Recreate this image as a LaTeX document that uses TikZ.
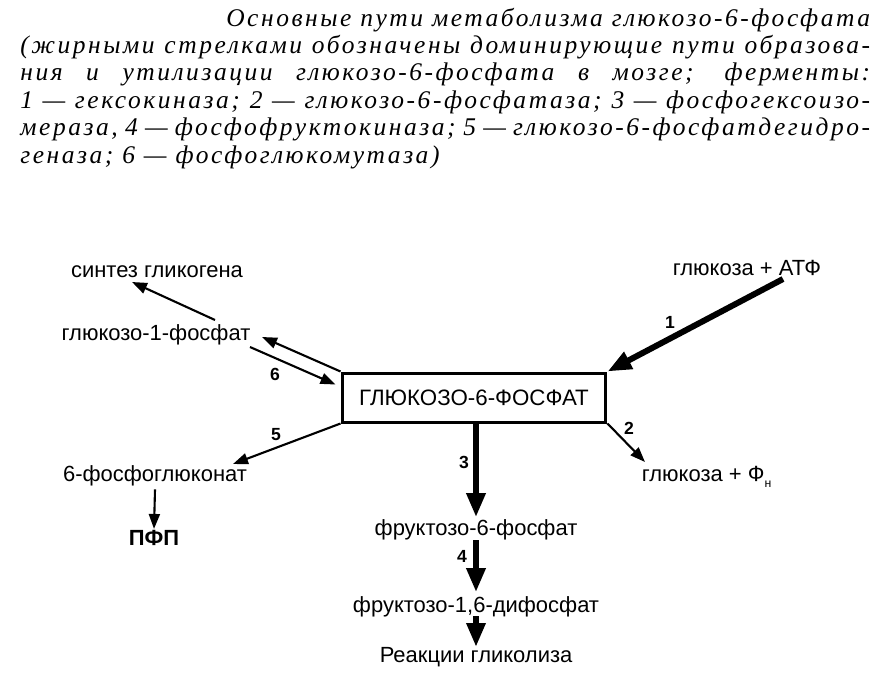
\documentclass[tikz,border=0pt]{standalone}
\usepackage{fontspec}
\setmainfont{Liberation Sans}
\newfontfamily\captionfont[LetterSpace=10]{Liberation Serif}
\usetikzlibrary{calc}
\usetikzlibrary{arrows.meta}

\begin{document}
\begin{tikzpicture}[x=0.02cm, y=-0.02cm,
    txt/.style={anchor=base, inner sep=2pt, font=\fontsize{12.5}{15}\selectfont},
    num/.style={inner sep=0pt, font=\fontsize{10}{12}\selectfont\bfseries},
    thinarr/.style={line width=1.2pt, -{Triangle[length=3mm, width=2.2mm]}},
    boldarr/.style={line width=3.4pt, -{Triangle[length=4.8mm, width=3.6mm]}}]
    \useasboundingbox (0,0) rectangle (885,694);

    % caption
    \node [anchor=base west, inner sep=0pt, text width=17cm, align=justify, font=\captionfont\itshape\fontsize{14.5}{15.6}\selectfont] (caption) at (20,26) {\hyphenpenalty=10000\exhyphenpenalty=10000
        \hfill Основные пути метаболизма глюкозо-6-фосфата\linebreak
        (жирными стрелками обозначены доминирующие пути образова-\linebreak
        ния и утилизации глюкозо-6-фосфата в мозге; ферменты:\linebreak
        1 — гексокиназа; 2 — глюкозо-6-фосфатаза; 3 — фосфогексоизо-\linebreak
        мераза, 4 — фосфофруктокиназа; 5 — глюкозо-6-фосфатдегидро-\linebreak
        геназа; 6 — фосфоглюкомутаза)};

    \node [draw, line width=1.7pt, minimum width=5.28cm, minimum height=0.98cm, inner sep=0pt, font=\fontsize{12.7}{15}\selectfont] (g6p) at (474,397.5) {ГЛЮКОЗО-6-ФОСФАТ};
    \node [txt] (glyc) at (157,277) {синтез гликогена};
    \node [txt] (g1p) at (156,340) {глюкозо-1-фосфат};
    \node [txt] (pgl) at (155,481) {6-фосфоглюконат};
    \node [txt, font=\fontsize{12.5}{15}\selectfont\bfseries] (pfp) at (154,545) {ПФП};
    \node [txt] (atp) at (747,275) {глюкоза + АТФ};
    \node [txt, anchor=base west] (glc) at (638,481) {глюкоза + Ф\raisebox{-0.6ex}{\scriptsize н}};
    \node [txt] (f6p) at (476,535) {фруктозо-6-фосфат};
    \node [txt] (fdp) at (476,612) {фруктозо-1,6-дифосфат};
    \node [txt] (glyk) at (476,662) {Реакции гликолиза};

    \node [num] (n1) at (670,322) {1};
    \node [num] (n2) at (629,428) {2};
    \node [num] (n3) at (464,462) {3};
    \node [num] (n4) at (462,556) {4};
    \node [num] (n5) at (276,435) {5};
    \node [num] (n6) at (275,374) {6};

    \draw [boldarr] ($(atp.base)+(36,4)$) -- (g6p.north east);
    \draw [thinarr] (g6p.south east) -- ($(glc.base west)+(7,-19)$);
    \draw [boldarr] (g6p.south -| f6p.north) -- ($(f6p.north)+(0,2)$);
    \draw [boldarr] ($(f6p.south)+(0,-3)$) -- (fdp.north);
    \draw [boldarr] ($(fdp.south)+(0,-4)$) -- ($(glyk.north)+(0,4)$);
    \draw [thinarr] (g6p.south west) -- ($(pgl.base)+(78,-17)$);
    \draw [thinarr] (pgl.south) -- ($(pfp.north)+(0,3)$);
    \draw [thinarr] (g6p.north west) -- ($(g1p.base)+(106,-3)$);
    \draw [thinarr] ($(g1p.base)+(94,7)$) -- ($(g6p.north west)+(-5,13)$);
    \draw [thinarr] ($(g1p.base)+(59,-20)$) -- ($(glyc.base)+(-25,5)$);
\end{tikzpicture}
\end{document}
